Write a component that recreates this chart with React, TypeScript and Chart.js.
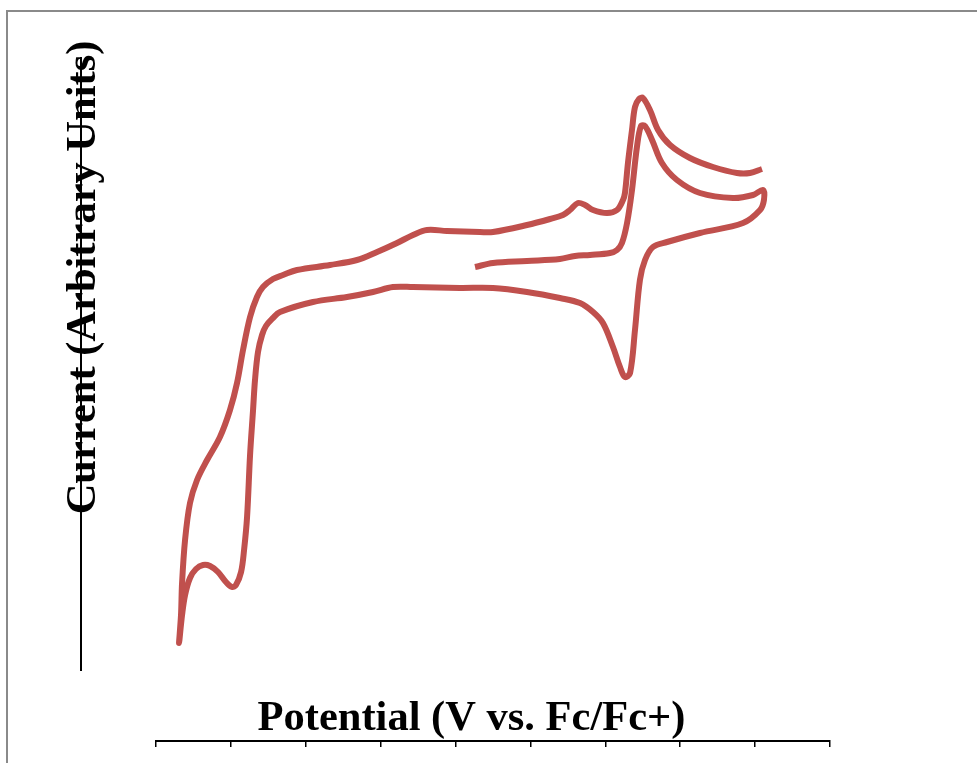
import React, { useEffect, useRef } from "react";
import { Chart, registerables } from "chart.js";

Chart.register(...registerables);

// Potential (V vs. Fc/Fc+) along the scan, in order
const potential: number[] = [
  -1.07, -0.95, -0.723, -0.503, -0.403, -0.302, -0.169, -0.122, -0.089, -0.055,
  -0.022, 0.011, 0.038, 0.065, 0.112, 0.178, 0.278, 0.432, 0.652, 0.786,
  0.853, 0.859, 0.833, 0.719, 0.432, 0.212, 0.118, 0.065, 0.031, -0.002,
  -0.035, -0.069, -0.102, -0.149, -0.216, -0.282, -0.369, -0.503, -0.723, -0.95,
  -1.17, -1.484, -1.618, -1.751, -1.925, -2.152, -2.372, -2.419, -2.466, -2.492,
  -2.519, -2.539, -2.552, -2.572, -2.592, -2.612, -2.632, -2.666, -2.693, -2.733,
  -2.786, -2.839, -2.886, -2.933, -2.973, -3.006, -3.026, -3.046, -3.033, -3.026,
  -3.006, -2.973, -2.926, -2.859, -2.773, -2.706, -2.659, -2.619, -2.572, -2.526,
  -2.486, -2.419, -2.352, -2.259, -2.038, -1.858, -1.724, -1.591, -1.484, -1.391,
  -1.257, -1.037, -0.95, -0.723, -0.569, -0.483, -0.436, -0.383, -0.336, -0.282,
  -0.189, -0.122, -0.082, -0.069, -0.049, -0.022, -0.002, 0.025, 0.051, 0.098,
  0.152, 0.232, 0.365, 0.519, 0.679, 0.766, 0.846,
];

// Current (arbitrary units) at each point of the scan
const current: number[] = [
  12.4, 12.8, 13.0, 13.2, 13.5, 13.6, 13.8, 14.1, 14.8, 16.8,
  20.1, 24.4, 26.5, 26.5, 25.1, 22.8, 21.1, 19.8, 19.3, 19.6,
  20.1, 19.1, 18.1, 16.8, 15.8, 14.9, 14.4, 13.1, 11.1, 6.1,
  1.8, 1.4, 2.4, 4.4, 6.8, 7.9, 8.8, 9.3, 9.9, 10.3,
  10.3, 10.4, 10.4, 9.9, 9.4, 8.9, 7.9, 7.3, 6.5, 5.6,
  3.9, 1.1, -1.9, -6.4, -12.6, -15.9, -18.1, -19.4, -19.6, -19.1,
  -18.1, -17.5, -17.4, -17.8, -18.7, -20.4, -22.4, -25.2, -22.4, -19.2,
  -14.9, -11.2, -8.9, -6.9, -4.6, -1.9, 0.8, 4.1, 7.4, 9.4,
  10.4, 11.2, 11.6, 12.1, 12.6, 13.1, 13.9, 14.8, 15.6, 16.1,
  16.0, 15.9, 15.9, 16.6, 17.2, 17.6, 18.1, 18.8, 18.6, 18.1,
  17.8, 18.1, 19.1, 19.8, 22.8, 26.1, 28.4, 29.2, 29.3, 28.1,
  26.1, 24.6, 23.3, 22.4, 21.8, 21.8, 22.2,
];

const xTitle = "Potential (V vs. Fc/Fc+)";
const yTitle = "Current (Arbitrary Units)";
const xMin = -3.2;
const xMax = 1.3;
const xStep = 0.5;
const yMin = -35;
const yMax = 35;

const FONT = 'bold 42.5px "Liberation Serif", "Times New Roman", serif';

const decorPlugin = {
  id: "decor",
  afterDraw(chart: any) {
    const { ctx, chartArea } = chart;
    const ys = chart.scales.y;
    ctx.save();
    // vertical axis line, detached from the plot area
    ctx.strokeStyle = "#000";
    ctx.lineWidth = 2;
    ctx.beginPath();
    const ax = chartArea.left - 75;
    ctx.moveTo(ax, ys.getPixelForValue(33.4));
    ctx.lineTo(ax, ys.getPixelForValue(-28));
    ctx.stroke();
    // titles
    ctx.fillStyle = "#000";
    ctx.font = FONT;
    ctx.textAlign = "center";
    ctx.textBaseline = "alphabetic";
    ctx.fillText(xTitle, 471.5, 730);
    ctx.translate(95, 277.5);
    ctx.rotate(-Math.PI / 2);
    ctx.fillText(yTitle, 0, 0);
    ctx.restore();
  },
};

export default function App() {
  const ref = useRef<HTMLCanvasElement | null>(null);
  useEffect(() => {
    if (!ref.current) return;
    const data = potential.map((x, i) => ({ x, y: current[i] }));
    const chart = new Chart(ref.current, {
      type: "line",
      data: {
        datasets: [
          {
            data,
            borderColor: "#C0504D",
            borderWidth: 6,
            pointRadius: 0,
            fill: false,
            tension: 0.35,
          },
        ],
      },
      options: {
        responsive: false,
        animation: false,
        events: [],
        layout: { padding: { left: 156, right: 147, top: 41, bottom: 16 } },
        plugins: { legend: { display: false }, tooltip: { enabled: false }, title: { display: false } },
        scales: {
          x: {
            type: "linear",
            min: xMin,
            max: xMax,
            ticks: { display: false, stepSize: xStep },
            grid: { display: true, drawOnChartArea: false, drawTicks: true, tickLength: 6, color: "#000", lineWidth: 1.5 },
            border: { display: true, color: "#000", width: 2 },
          },
          y: {
            type: "linear",
            display: false,
            min: yMin,
            max: yMax,
          },
        },
      },
      plugins: [decorPlugin],
    });
    return () => chart.destroy();
  }, []);
  return (
    <div style={{ position: "fixed", left: 0, top: 0, width: 977, height: 763, overflow: "hidden", background: "#fff" }}>
      <div style={{ position: "absolute", left: 6, top: 10, width: 1000, height: 800, border: "2px solid #8a8a8a", boxSizing: "border-box" }} />
      <canvas ref={ref} width={977} height={763} style={{ position: "absolute", left: 0, top: 0, display: "block" }} />
    </div>
  );
}
